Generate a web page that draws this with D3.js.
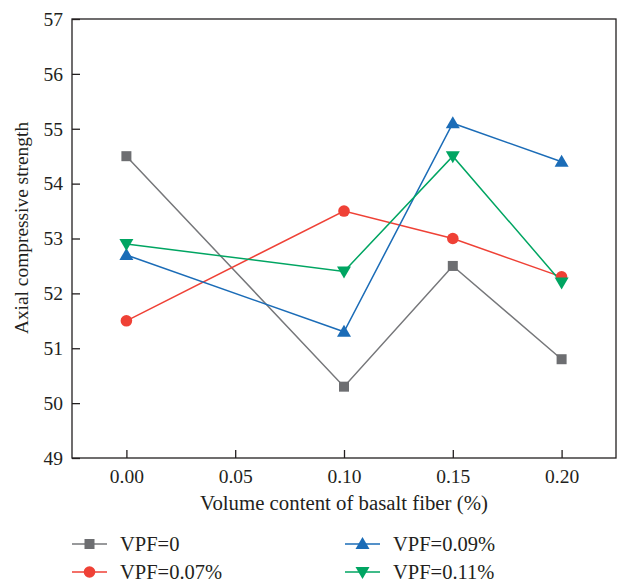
<!DOCTYPE html>
<html>
<head>
<meta charset="utf-8">
<script src="https://cdn.jsdelivr.net/npm/d3@7"></script>
<style>
  body { margin: 0; background: #fff; }
</style>
</head>
<body>
<svg id="chart" width="619" height="586"></svg>
<script>
// data
const fiberContent = [0.0, 0.1, 0.15, 0.2];
const xTicks = [0.0, 0.05, 0.1, 0.15, 0.2];
const yTicks = [49, 50, 51, 52, 53, 54, 55, 56, 57];
const seriesNames = ["VPF=0", "VPF=0.07%", "VPF=0.09%", "VPF=0.11%"];
const vpf0 = [54.5, 50.3, 52.5, 50.8];
const vpf007 = [51.5, 53.5, 53.0, 52.3];
const vpf009 = [52.7, 51.3, 55.1, 54.4];
const vpf011 = [52.9, 52.4, 54.5, 52.2];

const series = [
  { name: seriesNames[0], values: vpf0, color: "#76777a", fill: "#6d6e71", symbol: "square" },
  { name: seriesNames[1], values: vpf007, color: "#ef4136", fill: "#ef4136", symbol: "circle" },
  { name: seriesNames[2], values: vpf009, color: "#1b6cb7", fill: "#1b6cb7", symbol: "up" },
  { name: seriesNames[3], values: vpf011, color: "#00a562", fill: "#00a562", symbol: "down" }
];

const FONT = "'Liberation Serif', Tinos, 'DejaVu Serif', serif";
const svg = d3.select("#chart").attr("font-family", FONT);
const plotL = 72, plotR = 616, plotT = 19, plotB = 458;

const x = d3.scaleLinear().domain([-0.025, 0.225]).range([plotL, plotR]);
const y = d3.scaleLinear().domain([49, 57]).range([plotB, plotT]);

// frame
svg.append("rect")
  .attr("x", plotL).attr("y", plotT)
  .attr("width", plotR - plotL).attr("height", plotB - plotT)
  .attr("fill", "none").attr("stroke", "#231f20").attr("stroke-width", 1.3);

// axes (ticks point inward)
const xAxis = svg.append("g")
  .attr("transform", `translate(0,${plotB})`)
  .call(d3.axisBottom(x).tickValues(xTicks).tickSizeInner(-8).tickSizeOuter(0)
    .tickPadding(11).tickFormat(d3.format(".2f")));
const yAxis = svg.append("g")
  .attr("transform", `translate(${plotL},0)`)
  .call(d3.axisLeft(y).tickValues(yTicks).tickSizeInner(-8).tickSizeOuter(0)
    .tickPadding(9).tickFormat(d3.format("d")));

[xAxis, yAxis].forEach((g) => {
  g.attr("font-family", FONT).attr("font-size", 19.5);
  g.select(".domain").remove();
  g.selectAll(".tick line").attr("stroke", "#231f20").attr("stroke-width", 1.3);
  g.selectAll(".tick text").attr("fill", "#231f20");
});

// axis titles
svg.append("text")
  .attr("x", (plotL + plotR) / 2).attr("y", 510)
  .attr("text-anchor", "middle").attr("font-size", 20.8).attr("fill", "#231f20")
  .text("Volume content of basalt fiber (%)");

svg.append("text")
  .attr("transform", `translate(28,228) rotate(-90)`)
  .attr("text-anchor", "middle").attr("font-size", 19.4).attr("fill", "#231f20")
  .text("Axial compressive strength");

// marker drawing
function drawMarker(g, s, cx, cy) {
  if (s.symbol === "square") {
    g.append("rect").attr("x", cx - 5).attr("y", cy - 5).attr("width", 10).attr("height", 10)
      .attr("fill", s.fill);
  } else if (s.symbol === "circle") {
    g.append("circle").attr("cx", cx).attr("cy", cy).attr("r", 5.8).attr("fill", s.fill);
  } else if (s.symbol === "up") {
    g.append("path").attr("d", `M${cx},${cy - 7}L${cx + 7},${cy + 5}L${cx - 7},${cy + 5}Z`)
      .attr("fill", s.fill);
  } else {
    g.append("path").attr("d", `M${cx},${cy + 7}L${cx + 7},${cy - 5}L${cx - 7},${cy - 5}Z`)
      .attr("fill", s.fill);
  }
}

const line = d3.line().x((d) => x(d[0])).y((d) => y(d[1]));

series.forEach((s) => {
  const pts = fiberContent.map((f, i) => [f, s.values[i]]);
  svg.append("path")
    .attr("d", line(pts))
    .attr("fill", "none")
    .attr("stroke", s.color)
    .attr("stroke-width", 1.5);
});

series.forEach((s) => {
  const g = svg.append("g");
  fiberContent.forEach((f, i) => drawMarker(g, s, x(f), y(s.values[i])));
});

// legend
const legendPos = [
  { lx: 72, ly: 544 },
  { lx: 72, ly: 572 },
  { lx: 345, ly: 544 },
  { lx: 345, ly: 572 }
];
series.forEach((s, i) => {
  const p = legendPos[i];
  const g = svg.append("g");
  g.append("line")
    .attr("x1", p.lx).attr("x2", p.lx + 35)
    .attr("y1", p.ly).attr("y2", p.ly)
    .attr("stroke", s.color).attr("stroke-width", 1.5);
  drawMarker(g, s, p.lx + 17.5, p.ly);
  g.append("text")
    .attr("x", p.lx + 48).attr("y", p.ly + 7)
    .attr("font-size", 20.5).attr("fill", "#231f20")
    .text(s.name);
});
</script>
</body>
</html>
